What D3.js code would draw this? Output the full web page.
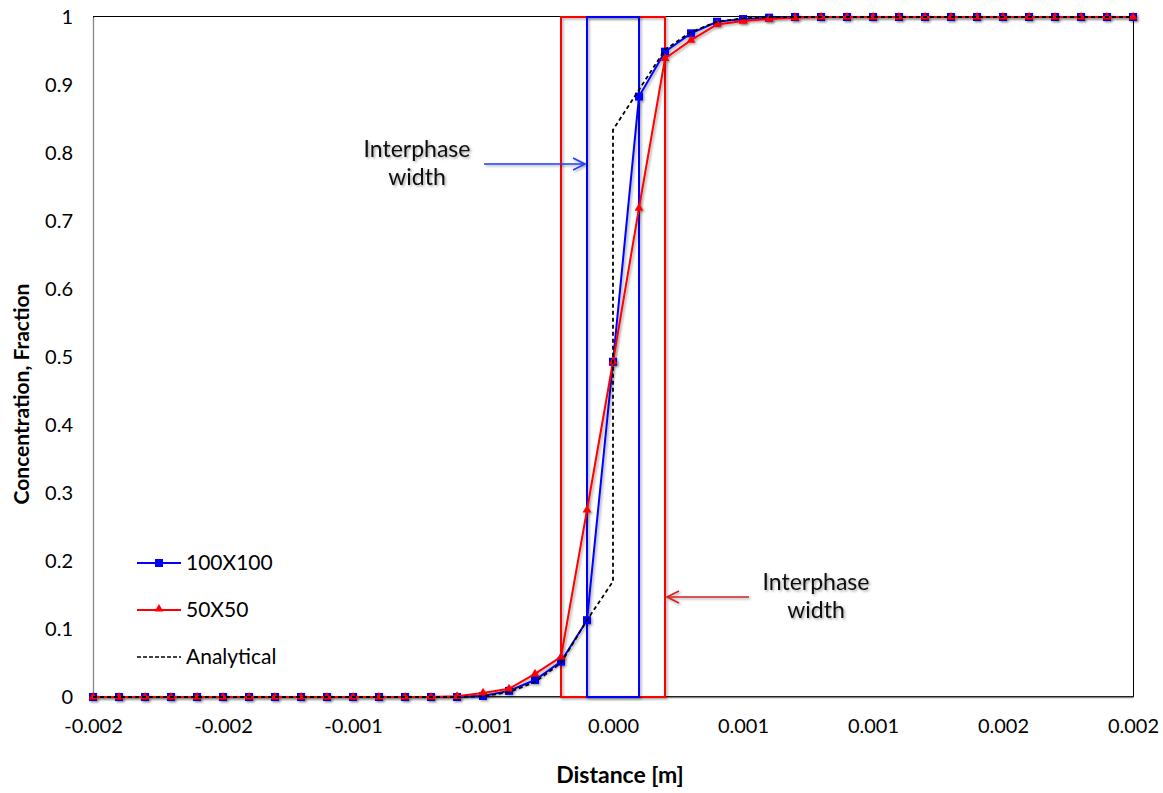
<!DOCTYPE html>
<html><head><meta charset="utf-8">
<script src="https://cdn.jsdelivr.net/npm/d3@7"></script>
<style>body{margin:0;background:#fff;} svg{display:block;font-family:Lato,"Open Sans",sans-serif;}</style>
</head><body>
<svg id="c" width="1163" height="793"></svg>
<script>
// Data
const distance = [-0.0020,-0.0019,-0.0018,-0.0017,-0.0016,-0.0015,-0.0014,-0.0013,-0.0012,-0.0011,
  -0.0010,-0.0009,-0.0008,-0.0007,-0.0006,-0.0005,-0.0004,-0.0003,-0.0002,-0.0001,
  0.0000,0.0001,0.0002,0.0003,0.0004,0.0005,0.0006,0.0007,0.0008,0.0009,
  0.0010,0.0011,0.0012,0.0013,0.0014,0.0015,0.0016,0.0017,0.0018,0.0019,0.0020];
const fine100 = [0,0,0,0,0,0,0,0,0,0, 0,0,0,0,0,0.0015,0.009,0.025,0.052,0.113,
  0.493,0.883,0.949,0.976,0.993,0.997,0.999,1,1,1, 1,1,1,1,1,1,1,1,1,1,1];
const coarse50 = [0,0,0,0,0,0,0,0,0,0, 0,0,0,0,0.001,0.006,0.012,0.034,0.059,0.275,
  0.493,0.719,0.939,0.966,0.989,0.994,0.997,0.999,1,1, 1,1,1,1,1,1,1,1,1,1,1];
const analyticalX = [-0.0020,-0.0015,-0.0010,-0.0007,-0.0006,-0.0005,-0.0004,-0.0003,-0.0002,-0.0001,
  0.0000,0.0000,0.0001,0.0002,0.0003,0.0004,0.0005,0.0006,0.0007,0.0010,0.0015,0.0020];
const analyticalY = [0,0,0,0,0,0.001,0.007,0.022,0.050,0.113,
  0.170,0.834,0.893,0.952,0.978,0.993,0.998,1,1,1,1,1];
const xTicks = [-0.002,-0.0015,-0.001,-0.0005,0,0.0005,0.001,0.0015,0.002];
const yTicks = [0,0.1,0.2,0.3,0.4,0.5,0.6,0.7,0.8,0.9,1];
const bandRed = [-0.0002, 0.0002];
const bandBlue = [-0.0001, 0.0001];
const seriesNames = ["100X100","50X50","Analytical"];

const svg = d3.select("#c");
const L=93, R=1133, T=17, B=697;
const x = d3.scaleLinear().domain([-0.002,0.002]).range([L,R]);
const y = d3.scaleLinear().domain([0,1]).range([B,T]);

const defs = svg.append("defs");
const f = defs.append("filter").attr("id","sh").attr("x","-20%").attr("y","-20%").attr("width","140%").attr("height","140%");
f.append("feDropShadow").attr("dx",1.5).attr("dy",1.5).attr("stdDeviation",1.2).attr("flood-color","#000").attr("flood-opacity",0.35);

// plot border
svg.append("rect").attr("x",L+0.5).attr("y",T-0.5).attr("width",R-L).attr("height",B-T)
  .attr("fill","none").attr("stroke","#000").attr("stroke-width",1);

// axes
const fmt = d3.format(".3f");
const xAxis = svg.append("g").attr("transform",`translate(0,${B})`)
  .call(d3.axisBottom(x).tickValues(xTicks).tickFormat(d=>fmt(d).replace("\u2212","-")).tickSize(0).tickPadding(22));
xAxis.select(".domain").attr("stroke","#868686").attr("stroke-width",1.3);
xAxis.selectAll("text").attr("font-size",20).attr("font-family","Lato").attr("fill","#000");
const yAxis = svg.append("g").attr("transform",`translate(${L},0)`)
  .call(d3.axisLeft(y).tickValues(yTicks).tickFormat(d3.format("")).tickSize(0).tickPadding(20));
yAxis.select(".domain").attr("stroke","#868686").attr("stroke-width",1.3);
yAxis.selectAll("text").attr("font-size",20).attr("font-family","Lato").attr("fill","#000");

// bands
function band(b,color){
  svg.append("rect").attr("x",x(b[0])).attr("y",y(1)).attr("width",x(b[1])-x(b[0])).attr("height",y(0)-y(1))
    .attr("fill","none").attr("stroke",color).attr("stroke-width",2).attr("filter","url(#sh)");
}
band(bandRed,"#ff0000");
band(bandBlue,"#0000ff");

// series
const line = d3.line().x(d=>x(d[0])).y(d=>y(d[1]));
const blueData = distance.map((d,i)=>[d,fine100[i]]);
const redData = distance.map((d,i)=>[d,coarse50[i]]);
const anaData = analyticalX.map((d,i)=>[d,analyticalY[i]]);

const gB = svg.append("g").attr("filter","url(#sh)");
gB.append("path").attr("d",line(blueData)).attr("fill","none").attr("stroke","#0000ff").attr("stroke-width",2);
gB.selectAll("rect").data(blueData).join("rect")
  .attr("x",d=>x(d[0])-4).attr("y",d=>y(d[1])-4).attr("width",8).attr("height",8).attr("fill","#0000ff");

const gR = svg.append("g").attr("filter","url(#sh)");
gR.append("path").attr("d",line(redData)).attr("fill","none").attr("stroke","#ff0000").attr("stroke-width",2);
const tri = d3.symbol().type(d3.symbolTriangle).size(34);
gR.selectAll("path.m").data(redData).join("path").attr("class","m")
  .attr("transform",d=>`translate(${x(d[0])},${y(d[1])})`).attr("d",tri).attr("fill","#ff0000");

svg.append("path").attr("d",line(anaData)).attr("fill","none").attr("stroke","#000")
  .attr("stroke-width",1.8).attr("stroke-dasharray","4,3");

// annotations
function arrow(x1,x2,yy,color){
  const g = svg.append("g").attr("filter","url(#sh)");
  g.append("line").attr("x1",x1).attr("x2",x2).attr("y1",yy).attr("y2",yy).attr("stroke",color).attr("stroke-width",1.6);
  const s = x2>x1 ? -1 : 1;
  g.append("path").attr("d",`M${x2+s*12},${yy-6}L${x2},${yy}L${x2+s*12},${yy+6}`)
    .attr("fill","none").attr("stroke",color).attr("stroke-width",1.6);
}
arrow(484, x(bandBlue[0])-2, 164, "#1f3cff");
arrow(749, x(bandRed[1])+2, 597, "#d42020");
function label(cx,by,lines){
  const t = svg.append("text").attr("x",cx).attr("y",by).attr("text-anchor","middle")
    .attr("font-size",23).attr("fill","#111").attr("filter","url(#sh)");
  lines.forEach((s,i)=>t.append("tspan").attr("x",cx).attr("dy",i?28:0).text(s));
}
label(417,157,["Interphase","width"]);
label(816,590,["Interphase","width"]);

// axis titles
svg.append("text").attr("x",620).attr("y",783).attr("text-anchor","middle")
  .attr("font-size",23).attr("font-weight","bold").text("Distance [m]");
svg.append("text").attr("transform",`translate(29,394) rotate(-90)`).attr("text-anchor","middle")
  .attr("font-size",21).attr("font-weight","bold").text("Concentration, Fraction");

// legend
const lg = svg.append("g");
const ly = [563, 610, 657];
[0,1,2].forEach(i=>{
  const yy = ly[i];
  if(i===0){
    lg.append("line").attr("x1",137).attr("x2",181).attr("y1",yy).attr("y2",yy).attr("stroke","#0000ff").attr("stroke-width",2);
    lg.append("rect").attr("x",155).attr("y",yy-4).attr("width",8).attr("height",8).attr("fill","#0000ff");
  } else if(i===1){
    lg.append("line").attr("x1",137).attr("x2",181).attr("y1",yy).attr("y2",yy).attr("stroke","#ff0000").attr("stroke-width",2);
    lg.append("path").attr("transform",`translate(159,${yy-1})`).attr("d",tri).attr("fill","#ff0000");
  } else {
    lg.append("line").attr("x1",137).attr("x2",181).attr("y1",yy).attr("y2",yy).attr("stroke","#000").attr("stroke-width",1.5).attr("stroke-dasharray","4,2");
  }
  lg.append("text").attr("x",186).attr("y",yy+7).attr("font-size",21).text(seriesNames[i]);
});
</script>
</body></html>
